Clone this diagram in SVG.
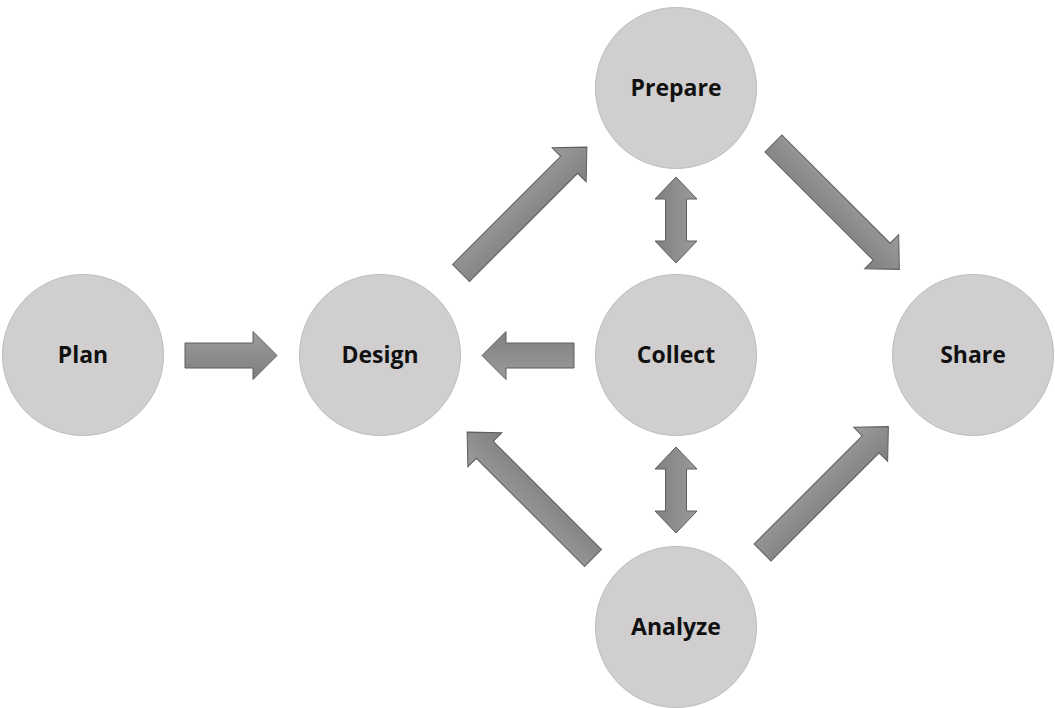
<svg xmlns="http://www.w3.org/2000/svg" width="1055" height="708" viewBox="0 0 1055 708">
  <defs>
    <linearGradient id="arrowFill" x1="0" y1="0" x2="0" y2="1">
      <stop offset="0" stop-color="#9b9b9b"/>
      <stop offset="1" stop-color="#7f7f7f"/>
    </linearGradient>
    <!-- long block arrow pointing along +x, tail at origin -->
    <path id="longArrow" d="M0,-12 H153 V-24 L178,0 L153,24 V12 H0 Z"/>
    <!-- short block arrow pointing along +x -->
    <path id="shortArrow" d="M0,-12.5 H68 V-24 L92,0 L68,24 V12.5 H0 Z"/>
    <!-- two-headed arrow along +x, centred on origin -->
    <path id="dualArrow" d="M-43,0 L-21,-21 V-10.5 H21 V-21 L43,0 L21,21 V10.5 H-21 V21 Z"/>
  </defs>
  <style>
    .node circle { fill: #d0cece; stroke: #bdbdbd; stroke-width: 1; }
    .node text { font-family: "Open Sans", "Liberation Sans", sans-serif; font-weight: 700; font-size: 23px; fill: #111111; text-anchor: middle; }
    .arrow { fill: url(#arrowFill); stroke: #5e5e5e; stroke-width: 1; }
  </style>

  <rect width="1055" height="708" fill="#ffffff"/>

  <g id="connectors">
    <use href="#shortArrow" class="arrow" transform="translate(185,355.5)"/>
    <use href="#shortArrow" class="arrow" transform="translate(574,355.5) rotate(180)"/>
    <use href="#longArrow" class="arrow" transform="translate(461,273) rotate(-45)"/>
    <use href="#longArrow" class="arrow" transform="translate(773.5,143.5) rotate(45)"/>
    <use href="#longArrow" class="arrow" transform="translate(593,558) rotate(-135)"/>
    <use href="#longArrow" class="arrow" transform="translate(762.5,552.5) rotate(-45)"/>
    <use href="#dualArrow" class="arrow" transform="translate(676,220) rotate(90)"/>
    <use href="#dualArrow" class="arrow" transform="translate(676,490) rotate(90)"/>
  </g>

  <g id="plan" class="node">
    <circle cx="83" cy="355" r="80.5"/>
    <text x="83" y="363">Plan</text>
  </g>
  <g id="design" class="node">
    <circle cx="380" cy="355" r="80.5"/>
    <text x="380" y="363">Design</text>
  </g>
  <g id="prepare" class="node">
    <circle cx="676" cy="88" r="80.5"/>
    <text x="676" y="96">Prepare</text>
  </g>
  <g id="collect" class="node">
    <circle cx="676" cy="355" r="80.5"/>
    <text x="676" y="363">Collect</text>
  </g>
  <g id="share" class="node">
    <circle cx="973" cy="355" r="80.5"/>
    <text x="973" y="363">Share</text>
  </g>
  <g id="analyze" class="node">
    <circle cx="676" cy="627" r="80.5"/>
    <text x="676" y="635">Analyze</text>
  </g>
</svg>
